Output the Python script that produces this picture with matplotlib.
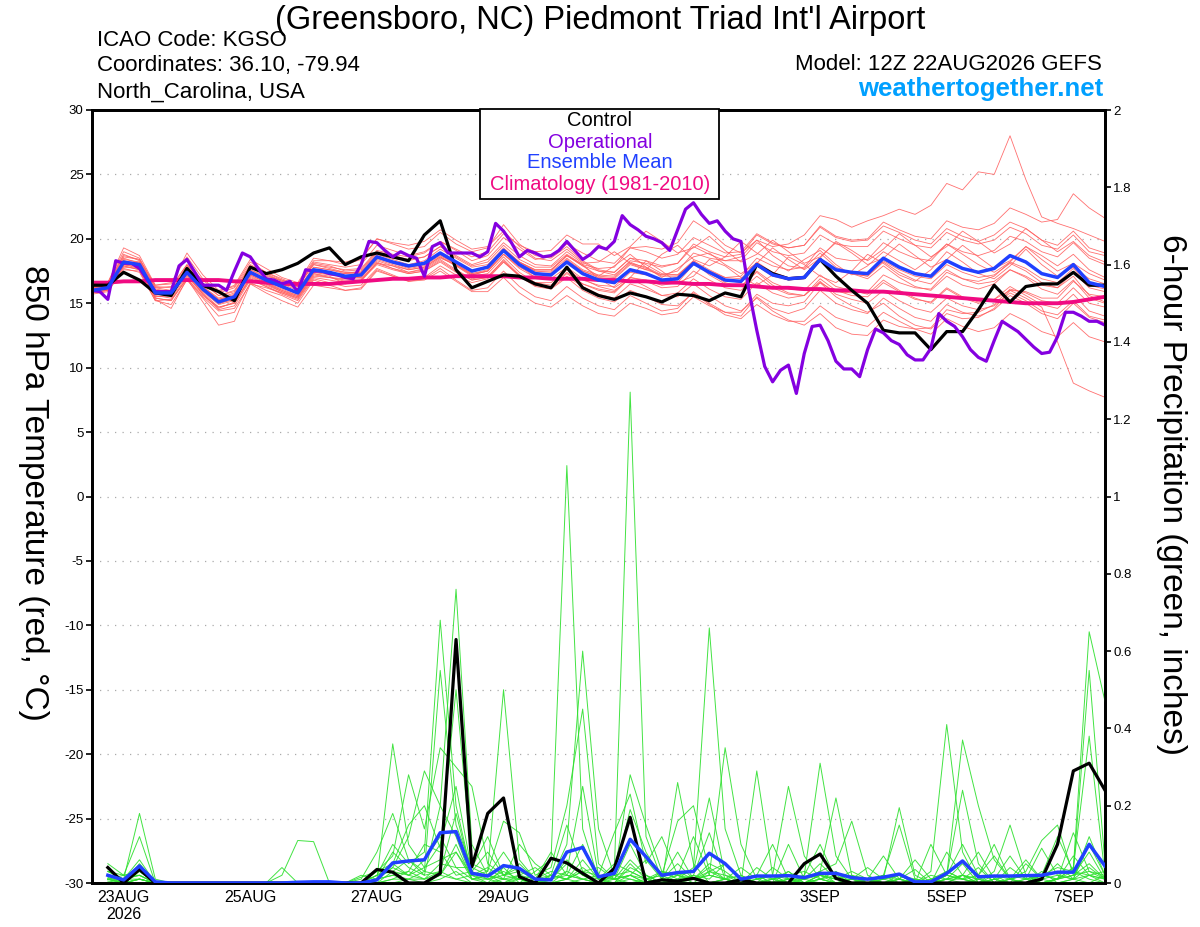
import numpy as np
import pandas as pd
import matplotlib
matplotlib.use('Agg')
import matplotlib.pyplot as plt
from matplotlib.patches import Rectangle

plt.rcParams['font.family'] = ['Liberation Sans', 'DejaVu Sans']
plt.rcParams['axes.unicode_minus'] = False

# GEFS run 12Z 22AUG2026, 6-hourly steps (operational every 3 hours)
times6 = pd.date_range('2026-08-22 12:00', periods=65, freq='6h')
times3 = pd.date_range('2026-08-22 12:00', periods=129, freq='3h')

tick_dates = pd.to_datetime(['2026-08-23', '2026-08-25', '2026-08-27', '2026-08-29',
                             '2026-09-01', '2026-09-03', '2026-09-05', '2026-09-07'])
tick_labels = ['23AUG\n2026', '25AUG', '27AUG', '29AUG', '1SEP', '3SEP', '5SEP', '7SEP']

# 850 hPa temperature (C)
ctl_t = [16.4, 16.4, 17.4, 16.8, 15.8, 15.6, 17.7, 16.4, 15.9, 15.2,
         17.8, 17.3, 17.6, 18.1, 18.9, 19.3, 18.0, 18.6, 18.9, 18.6,
         18.3, 20.3, 21.4, 17.6, 16.2, 16.7, 17.2, 17.1, 16.5, 16.2,
         17.8, 16.2, 15.6, 15.3, 15.8, 15.5, 15.1, 15.7, 15.6, 15.2,
         15.8, 15.5, 18.0, 17.3, 16.9, 17.0, 18.4, 17.1, 16.0, 15.0,
         12.9, 12.7, 12.7, 11.4, 12.8, 12.8, 14.5, 16.4, 15.1, 16.3,
         16.5, 16.5, 17.4, 16.4, 16.4]

mean_t = [16.0, 16.2, 18.2, 18.0, 15.8, 15.8, 17.4, 16.1, 15.1, 15.5,
          17.4, 16.8, 16.3, 15.8, 17.6, 17.4, 17.1, 17.2, 18.6, 18.2,
          17.9, 18.1, 18.9, 18.2, 17.5, 17.8, 19.1, 18.0, 17.3, 17.2,
          18.2, 17.3, 16.8, 16.6, 17.6, 17.3, 16.8, 16.9, 18.1, 17.4,
          16.8, 16.7, 18.0, 17.2, 16.9, 17.0, 18.4, 17.6, 17.4, 17.3,
          18.5, 17.8, 17.3, 17.1, 18.3, 17.7, 17.4, 17.7, 18.7, 18.2,
          17.3, 17.0, 18.0, 16.6, 16.3]

clim_t = [16.6, 16.6, 16.7, 16.7, 16.8, 16.8, 16.8, 16.8, 16.8,
          16.7, 16.7, 16.6, 16.5, 16.5, 16.5, 16.5, 16.6,
          16.7, 16.8, 16.9, 16.9, 17.0, 17.0, 17.1, 17.1,
          17.1, 17.1, 17.0, 17.0, 16.9, 16.9, 16.9, 16.8,
          16.8, 16.7, 16.7, 16.6, 16.6, 16.5, 16.5, 16.4,
          16.4, 16.3, 16.2, 16.2, 16.1, 16.1, 16.0, 16.0,
          15.9, 15.9, 15.8, 15.7, 15.6, 15.5, 15.4, 15.3,
          15.2, 15.1, 15.0, 15.0, 15.0, 15.1, 15.3, 15.5]

ops_t = [16.0, 15.9, 15.3, 18.3, 18.1, 18.1, 17.7, 16.8, 15.9, 15.9,
         15.9, 17.9, 18.4, 17.4, 16.4, 16.4, 16.4, 16.0, 17.5, 18.9,
         18.6, 17.7, 16.9, 16.8, 16.5, 16.7, 15.9, 17.6, 17.5, 17.5,
         17.3, 17.2, 17.0, 16.9, 18.0, 19.8, 19.7, 19.1, 18.6, 19.0,
         18.7, 18.5, 17.1, 19.4, 19.7, 18.9, 18.9, 18.9, 18.9, 18.6,
         19.0, 21.2, 20.6, 19.7, 18.6, 19.1, 18.9, 18.6, 18.7, 19.1,
         19.8, 19.1, 18.4, 18.8, 19.4, 19.2, 19.8, 21.8, 21.1, 20.7,
         20.2, 20.0, 19.7, 19.1, 20.7, 22.3, 22.8, 21.9, 21.2, 21.4,
         20.6, 20.0, 19.8, 16.0, 12.9, 10.1, 8.9, 9.8, 10.2, 8.0,
         11.1, 13.2, 13.3, 12.1, 10.5, 9.9, 9.9, 9.3, 11.4, 13.0,
         12.7, 12.1, 11.8, 11.0, 10.6, 10.6, 11.5, 14.2, 13.6, 13.2,
         12.4, 11.4, 10.8, 10.5, 12.1, 13.6, 13.2, 12.8, 12.2, 11.6,
         11.1, 11.2, 12.4, 14.3, 14.3, 14.0, 13.6, 13.6, 13.3]

member_t = [
    [16.2, 16.5, 18.8, 18.3, 16.2, 16.0, 17.9, 16.5, 15.6, 15.9, 17.9, 17.3, 16.7, 16.3, 18.2, 18.0,
     17.8, 18.0, 19.5, 19.1, 18.7, 19.0, 19.8, 19.1, 18.3, 18.7, 20.1, 19.2, 18.4, 18.6, 19.6, 18.9,
     18.3, 18.1, 19.3, 19.0, 18.5, 18.8, 20.1, 19.5, 18.9, 19.0, 20.4, 19.7, 19.3, 19.5, 20.9, 20.1,
     19.8, 19.9, 21.0, 20.5, 19.9, 19.6, 20.8, 20.2, 19.8, 20.3, 21.3, 20.8, 19.9, 19.5, 20.6, 19.3, 18.9],
    [15.8, 16.0, 17.9, 17.6, 15.4, 15.2, 17.0, 15.8, 14.7, 15.0, 17.0, 16.5, 15.9, 15.4, 17.1, 17.0,
     16.8, 16.9, 18.1, 17.9, 17.4, 17.7, 18.5, 18.0, 17.2, 17.5, 18.8, 17.9, 17.0, 17.1, 18.4, 17.5,
     17.0, 16.9, 18.0, 17.6, 17.2, 17.5, 18.9, 18.5, 18.3, 18.6, 19.9, 19.4, 19.6, 20.3, 21.8, 21.5,
     20.9, 21.4, 21.8, 22.3, 21.9, 22.6, 24.3, 23.8, 25.2, 25.0, 28.0, 24.6, 21.7, 21.2, 20.8, 20.3, 19.8],
    [16.1, 16.3, 18.0, 17.8, 15.5, 15.6, 17.2, 15.7, 14.6, 15.1, 16.9, 16.4, 15.9, 15.5, 17.3, 17.1,
     16.5, 16.8, 18.0, 17.6, 17.3, 17.5, 18.2, 17.4, 16.8, 17.0, 18.4, 17.2, 16.4, 16.2, 17.1, 16.3,
     15.7, 15.4, 16.5, 16.1, 15.6, 15.8, 16.9, 16.1, 15.5, 15.3, 16.6, 15.8, 15.4, 15.6, 16.9, 16.0,
     15.6, 15.5, 16.6, 15.9, 15.3, 15.1, 16.2, 15.5, 15.1, 15.3, 16.0, 15.4, 14.7, 12.0, 8.8, 8.2, 7.7],
    [15.7, 15.9, 17.6, 17.5, 15.2, 14.9, 16.8, 15.4, 14.0, 14.3, 16.6, 16.0, 15.6, 15.0, 16.8, 16.4,
     16.0, 16.2, 17.6, 17.1, 16.7, 16.9, 17.7, 16.8, 16.0, 16.2, 17.5, 16.3, 15.5, 15.2, 16.3, 15.4,
     14.8, 14.5, 15.6, 15.0, 14.4, 14.6, 15.9, 15.0, 14.3, 14.0, 15.5, 14.6, 14.2, 14.6, 16.0, 15.0,
     14.5, 14.2, 15.4, 14.6, 13.9, 13.6, 14.9, 14.3, 14.0, 14.5, 15.6, 15.0, 14.2, 13.8, 15.0, 13.9, 13.5],
    [16.3, 16.6, 19.3, 18.7, 16.4, 16.6, 18.6, 16.9, 15.9, 16.4, 18.4, 17.7, 17.0, 16.6, 18.5, 18.3,
     18.0, 18.4, 20.0, 19.6, 19.2, 19.4, 20.5, 19.6, 19.0, 19.3, 21.1, 19.6, 18.7, 18.5, 19.4, 18.3,
     17.6, 17.4, 18.5, 18.0, 17.3, 17.2, 18.2, 17.2, 16.5, 16.3, 17.5, 16.6, 16.1, 16.0, 17.2, 16.3,
     16.0, 15.7, 16.8, 16.0, 15.4, 15.0, 16.1, 15.4, 15.0, 15.3, 16.3, 15.6, 14.9, 14.6, 15.7, 14.4, 14.0],
    [16.0, 16.1, 18.4, 18.2, 16.0, 15.7, 17.5, 16.2, 15.2, 15.4, 17.2, 16.6, 16.0, 15.6, 17.4, 17.3,
     17.3, 17.5, 18.9, 18.5, 18.3, 18.6, 19.4, 18.7, 18.0, 18.4, 19.7, 18.7, 18.0, 17.9, 19.0, 18.1,
     18.2, 19.0, 18.1, 17.6, 18.8, 19.5, 18.4, 17.9, 18.6, 19.8, 18.9, 18.2, 17.5, 18.4, 19.1, 18.0,
     17.2, 17.9, 19.0, 18.3, 17.6, 18.5, 19.6, 18.8, 18.0, 17.4, 18.2, 19.4, 18.7, 17.9, 18.8, 17.6, 17.0],
    [15.9, 16.0, 18.1, 17.9, 15.3, 14.6, 16.9, 15.1, 13.3, 13.6, 16.5, 16.2, 15.8, 15.4, 17.2, 17.0,
     16.9, 17.0, 18.4, 18.0, 17.6, 17.8, 18.6, 17.9, 17.1, 17.3, 18.6, 17.4, 16.6, 16.4, 17.4, 16.5,
     16.0, 15.8, 17.0, 16.8, 16.4, 16.6, 18.0, 17.5, 17.0, 17.1, 18.5, 17.9, 17.6, 17.8, 19.3, 18.5,
     18.3, 18.4, 19.7, 19.0, 18.5, 18.3, 19.6, 19.0, 18.7, 19.1, 20.2, 19.8, 19.0, 18.6, 19.7, 18.5, 18.0],
    [16.2, 16.4, 18.5, 18.1, 15.9, 16.0, 17.6, 16.3, 15.4, 15.8, 17.6, 17.0, 16.6, 16.1, 17.8, 17.6,
     17.4, 17.4, 18.8, 18.4, 18.0, 18.3, 19.2, 18.5, 17.8, 18.0, 19.3, 18.2, 17.5, 17.4, 18.5, 17.6,
     17.2, 17.1, 18.3, 18.1, 17.8, 18.1, 19.6, 19.0, 18.6, 18.8, 20.3, 19.6, 19.3, 19.5, 21.0, 20.2,
     19.9, 20.0, 21.3, 20.7, 20.2, 20.0, 21.4, 20.9, 20.7, 21.2, 22.4, 21.9, 21.3, 21.5, 23.5, 22.4, 21.6],
    [16.0, 16.2, 18.0, 17.7, 15.6, 15.4, 17.1, 15.9, 14.9, 15.2, 17.1, 16.5, 16.0, 15.5, 17.3, 17.0,
     16.7, 16.8, 18.2, 17.7, 17.4, 17.6, 18.4, 17.6, 16.9, 17.1, 18.3, 17.1, 16.3, 16.1, 17.0, 16.0,
     15.4, 15.1, 16.0, 15.5, 14.9, 14.8, 15.8, 14.9, 14.1, 13.8, 14.9, 14.1, 13.6, 13.6, 14.8, 13.9,
     13.5, 13.2, 14.3, 13.6, 13.0, 12.6, 13.8, 13.2, 12.8, 13.1, 14.2, 13.6, 12.8, 12.4, 13.5, 12.4, 12.0],
    [16.4, 16.6, 19.0, 18.5, 16.3, 16.2, 18.0, 16.8, 15.8, 16.2, 18.0, 17.4, 16.9, 16.4, 18.1, 17.9,
     17.5, 17.6, 19.0, 18.7, 18.4, 18.6, 19.4, 18.6, 17.9, 18.2, 19.5, 18.4, 17.8, 17.8, 18.8, 18.0,
     16.9, 16.2, 17.0, 18.3, 17.5, 16.6, 17.1, 18.4, 17.9, 17.0, 16.4, 17.2, 18.6, 18.0, 17.1, 16.6,
     17.5, 18.8, 18.1, 17.2, 16.7, 17.6, 19.0, 18.2, 17.3, 16.9, 17.9, 19.2, 18.0, 17.1, 17.8, 16.9, 16.5],
    [15.9, 16.1, 17.8, 17.7, 15.5, 15.6, 17.3, 15.7, 14.5, 14.8, 16.8, 16.3, 15.7, 15.2, 16.9, 16.6,
     16.3, 16.4, 17.7, 17.2, 16.7, 16.8, 17.5, 16.7, 15.9, 15.9, 17.0, 15.8, 15.0, 14.7, 15.6, 14.8,
     14.2, 14.0, 15.0, 14.6, 14.1, 14.3, 15.5, 14.8, 14.3, 14.3, 15.7, 15.0, 14.8, 15.1, 16.6, 15.9,
     15.8, 15.9, 17.2, 16.6, 16.2, 16.1, 17.4, 16.9, 16.7, 17.1, 18.2, 17.7, 16.9, 16.6, 17.7, 16.4, 16.1],
    [16.2, 16.3, 18.3, 18.0, 15.8, 15.9, 17.5, 16.2, 15.3, 15.7, 17.6, 17.1, 16.8, 16.5, 18.3, 18.3,
     18.2, 18.5, 20.0, 19.7, 19.5, 19.8, 20.7, 19.9, 19.2, 19.4, 20.6, 19.4, 18.5, 18.3, 19.2, 18.2,
     17.5, 17.2, 18.2, 17.7, 17.1, 17.1, 18.2, 17.4, 16.8, 16.6, 17.9, 17.1, 16.8, 16.9, 18.3, 17.5,
     17.3, 17.1, 18.3, 17.6, 17.1, 16.9, 18.0, 17.4, 17.0, 17.2, 18.1, 17.5, 16.6, 16.2, 17.1, 15.6, 15.1],
    [16.1, 16.3, 18.2, 17.9, 15.7, 15.7, 17.4, 16.0, 15.0, 15.3, 17.3, 16.7, 16.2, 15.7, 17.5, 17.3,
     17.0, 17.1, 18.5, 18.1, 17.7, 17.9, 18.7, 18.0, 17.3, 17.5, 18.8, 17.7, 17.0, 16.9, 17.8, 16.9,
     16.3, 16.0, 16.9, 16.3, 15.6, 15.5, 16.5, 15.6, 14.8, 14.4, 15.4, 14.4, 13.7, 13.3, 14.2, 13.1,
     12.6, 12.5, 13.7, 13.2, 13.0, 13.1, 14.5, 14.2, 14.3, 14.9, 16.1, 15.8, 15.2, 15.0, 16.2, 15.0, 14.7],
    [15.8, 16.0, 18.0, 17.9, 15.7, 15.7, 17.3, 16.0, 15.0, 15.3, 17.2, 16.6, 16.1, 15.6, 17.4, 17.2,
     17.0, 17.2, 18.6, 18.2, 17.9, 18.1, 18.9, 18.2, 17.5, 17.9, 19.2, 18.2, 17.6, 17.6, 18.7, 17.9,
     17.5, 17.4, 18.5, 18.3, 17.9, 18.1, 19.4, 18.8, 18.3, 18.3, 19.7, 19.0, 18.7, 18.9, 20.3, 19.6,
     19.4, 19.4, 20.6, 20.0, 19.5, 19.3, 20.5, 19.9, 19.6, 19.9, 20.9, 20.4, 19.5, 19.2, 20.3, 19.0, 18.7],
    [16.0, 16.2, 18.1, 18.2, 16.1, 15.9, 17.6, 16.0, 15.2, 15.6, 17.5, 16.9, 16.5, 16.0, 17.8, 17.6,
     17.3, 17.3, 18.7, 18.2, 17.8, 18.0, 18.8, 18.0, 17.3, 17.6, 19.0, 18.1, 17.5, 17.5, 18.7, 18.0,
     17.7, 17.8, 19.3, 19.4, 19.2, 19.7, 21.4, 20.6, 19.5, 18.9, 19.9, 18.7, 17.9, 17.7, 18.9, 17.8,
     17.3, 16.9, 17.9, 17.0, 16.3, 16.0, 17.1, 16.4, 16.1, 16.5, 17.6, 17.1, 16.4, 16.2, 17.4, 16.2, 15.9],
    [16.1, 16.2, 18.3, 18.0, 15.9, 15.9, 17.6, 16.3, 15.3, 15.6, 17.4, 16.8, 16.2, 15.8, 17.5, 17.3,
     17.0, 17.0, 18.3, 17.9, 17.6, 17.8, 18.6, 17.9, 17.2, 17.5, 18.8, 17.8, 17.2, 17.2, 18.3, 17.5,
     17.1, 17.0, 18.1, 17.8, 17.2, 17.2, 18.3, 17.4, 16.6, 16.3, 17.4, 16.4, 15.8, 15.6, 16.6, 15.5,
     14.8, 14.3, 15.0, 14.0, 13.3, 13.0, 14.2, 13.8, 13.9, 14.6, 16.0, 15.9, 15.4, 15.4, 16.7, 15.7, 15.5],
    [16.2, 16.4, 18.6, 18.4, 16.2, 16.3, 18.0, 16.6, 15.6, 16.0, 17.9, 17.2, 16.7, 16.3, 18.0, 17.8,
     17.6, 17.7, 19.1, 18.8, 18.6, 18.9, 19.8, 19.2, 18.6, 19.0, 20.4, 19.5, 19.0, 19.1, 20.3, 19.6,
     19.6, 18.7, 19.4, 20.6, 19.8, 18.9, 19.3, 20.2, 19.1, 18.2, 18.8, 19.9, 19.0, 18.1, 18.6, 19.7,
     18.9, 18.0, 18.5, 19.6, 18.7, 17.8, 18.4, 19.5, 18.6, 17.7, 18.3, 19.4, 18.4, 17.5, 18.1, 17.3, 16.8],
    [15.9, 16.0, 17.7, 17.4, 15.2, 15.3, 16.9, 15.5, 14.4, 14.6, 16.5, 15.8, 15.2, 14.7, 16.4, 16.2,
     16.0, 16.1, 17.5, 17.1, 16.8, 17.0, 17.9, 17.2, 16.6, 16.9, 18.2, 17.2, 16.6, 16.6, 17.6, 16.8,
     16.4, 16.3, 17.4, 17.2, 16.8, 17.0, 18.3, 17.6, 17.0, 16.9, 18.2, 17.4, 17.0, 17.1, 18.4, 17.6,
     17.3, 17.1, 18.2, 17.4, 16.8, 16.5, 17.6, 16.9, 16.5, 16.7, 17.6, 17.0, 16.1, 15.7, 16.8, 15.4, 15.0],
    [16.3, 16.5, 18.7, 18.4, 16.4, 16.5, 18.9, 17.2, 16.0, 16.3, 18.2, 17.4, 16.8, 16.3, 18.0, 17.7,
     17.4, 17.4, 18.7, 18.2, 17.8, 18.0, 18.8, 18.1, 17.4, 17.8, 19.2, 18.2, 17.6, 17.6, 18.7, 17.9,
     17.1, 17.9, 18.8, 17.8, 17.0, 17.7, 18.6, 18.9, 18.0, 17.3, 18.1, 19.3, 18.4, 17.6, 18.5, 19.8,
     19.1, 18.3, 19.2, 20.4, 19.5, 18.6, 19.4, 20.6, 19.8, 18.9, 19.6, 20.8, 19.9, 19.0, 19.8, 18.7, 18.2],
    [16.0, 16.1, 17.9, 17.6, 15.4, 15.2, 16.9, 15.6, 14.7, 15.0, 16.9, 16.3, 15.8, 15.3, 17.0, 16.8,
     16.6, 16.7, 18.1, 17.7, 17.3, 17.5, 18.3, 17.5, 16.8, 17.0, 18.2, 17.1, 16.4, 16.3, 17.3, 16.5,
     16.1, 15.9, 17.0, 16.7, 16.2, 16.3, 17.5, 16.8, 16.2, 16.0, 17.1, 16.2, 15.7, 15.6, 16.7, 15.7,
     15.3, 15.0, 16.0, 15.2, 14.6, 14.3, 15.4, 14.8, 14.5, 14.8, 15.8, 15.2, 14.4, 14.1, 15.2, 14.0, 13.7],
]

# 6-hour precipitation (inches), valid at steps 1..64
ctl_p = [0.04, 0.0, 0.035, 0.0, 0, 0, 0, 0, 0, 0, 0, 0, 0, 0, 0, 0,
         0, 0.035, 0.028, 0, 0, 0.025, 0.63, 0.042, 0.18, 0.22, 0.016, 0, 0.064, 0.052, 0.025, 0,
         0.038, 0.17, 0, 0.008, 0.005, 0.012, 0, 0, 0.008, 0, 0, 0, 0.05, 0.075, 0.012, 0,
         0, 0, 0, 0, 0, 0, 0, 0, 0, 0, 0, 0.01, 0.10, 0.29, 0.31, 0.24]

mean_p = [0.02, 0.008, 0.044, 0.003, 0, 0, 0, 0, 0, 0, 0, 0, 0.002, 0.003, 0.003, 0,
          0, 0.008, 0.052, 0.057, 0.06, 0.13, 0.133, 0.025, 0.018, 0.045, 0.038, 0.01, 0.008, 0.08, 0.092, 0.016,
          0.025, 0.113, 0.068, 0.02, 0.027, 0.03, 0.077, 0.05, 0.01, 0.018, 0.018, 0.019, 0.014, 0.025, 0.025, 0.014,
          0.01, 0.015, 0.023, 0.003, 0.003, 0.025, 0.057, 0.016, 0.018, 0.018, 0.019, 0.02, 0.028, 0.028, 0.1, 0.044]

member_p = [
    [0.03, 0.01, 0.18, 0.01, 0, 0, 0, 0, 0, 0, 0, 0, 0, 0, 0, 0,
     0, 0.02, 0.1, 0.05, 0.08, 0.68, 0.2, 0.02, 0.01, 0, 0.02, 0, 0.01, 0.06, 0.02, 0,
     0.03, 1.27, 0.12, 0.01, 0, 0.02, 0.13, 0.01, 0, 0, 0.01, 0, 0.02, 0.1, 0.01, 0,
     0, 0, 0.01, 0, 0, 0.01, 0.05, 0, 0, 0, 0.01, 0.02, 0.01, 0.04, 0.65, 0.47],
    [0.05, 0.02, 0.12, 0, 0, 0, 0, 0, 0, 0, 0, 0, 0, 0, 0, 0,
     0, 0.01, 0.04, 0.12, 0.29, 0.2, 0.76, 0.1, 0.02, 0.01, 0, 0.03, 0.06, 1.08, 0.14, 0.01,
     0, 0.04, 0.02, 0, 0.26, 0.05, 0, 0.01, 0, 0.02, 0, 0.1, 0.01, 0, 0, 0.01,
     0, 0, 0, 0, 0.03, 0.41, 0.08, 0, 0, 0, 0, 0, 0.01, 0.02, 0.08, 0.01],
    [0.03, 0.01, 0.06, 0, 0, 0, 0, 0, 0, 0, 0, 0.02, 0.11, 0.107, 0, 0,
     0, 0.01, 0.36, 0.1, 0.04, 0.06, 0.08, 0.02, 0.03, 0.5, 0.06, 0.01, 0, 0.03, 0.25, 0.02,
     0.01, 0.02, 0, 0.03, 0.01, 0.04, 0.66, 0.14, 0.02, 0, 0, 0.03, 0, 0.02, 0, 0.01,
     0, 0.01, 0.195, 0.02, 0, 0.02, 0.24, 0.05, 0, 0.01, 0, 0.02, 0.04, 0.03, 0.55, 0.05],
    [0.02, 0, 0.05, 0, 0, 0, 0, 0, 0, 0, 0, 0.04, 0, 0, 0, 0,
     0, 0.03, 0.07, 0.28, 0.14, 0.35, 0.3, 0.25, 0.05, 0.02, 0.04, 0, 0.01, 0.1, 0.6, 0.14,
     0.02, 0.03, 0.01, 0, 0.02, 0.01, 0.05, 0.03, 0, 0.29, 0.02, 0, 0.01, 0.03, 0.05, 0.16,
     0.02, 0, 0.01, 0, 0, 0.02, 0.01, 0, 0.03, 0.15, 0.02, 0, 0.01, 0.04, 0.38, 0.02],
    [0.02, 0.01, 0.04, 0, 0, 0, 0, 0, 0, 0, 0, 0, 0, 0, 0, 0,
     0.01, 0.08, 0.18, 0.06, 0.03, 0.55, 0.15, 0.04, 0.12, 0.02, 0.03, 0.01, 0.08, 0.02, 0.01, 0,
     0.02, 0.28, 0.15, 0.03, 0.02, 0, 0.03, 0.05, 0.01, 0.02, 0, 0.01, 0.02, 0.31, 0.07, 0.01,
     0, 0.01, 0, 0.01, 0, 0.02, 0.37, 0.2, 0.06, 0.01, 0, 0.02, 0.12, 0.03, 0.02, 0.01],
    [0.01, 0, 0.03, 0, 0, 0, 0, 0, 0, 0, 0, 0, 0, 0, 0, 0,
     0, 0.02, 0.05, 0.15, 0.2, 0.09, 0.5, 0.05, 0.03, 0.16, 0.13, 0.02, 0.04, 0.2, 0.45, 0.05,
     0.01, 0.06, 0.02, 0, 0.03, 0.01, 0.02, 0.35, 0.1, 0.01, 0.02, 0.01, 0, 0.02, 0.01, 0,
     0.01, 0.02, 0.01, 0, 0.1, 0.02, 0.01, 0, 0.02, 0.01, 0.03, 0.11, 0.15, 0.02, 0.03, 0.01],
    [0.03, 0.02, 0.02, 0, 0, 0, 0, 0, 0, 0, 0, 0, 0, 0, 0, 0,
     0.015, 0.03, 0.05, 0.02, 0.04, 0.1, 0.25, 0.03, 0.08, 0.02, 0.01, 0, 0.02, 0.01, 0.03, 0.02,
     0.13, 0.23, 0.05, 0.12, 0.02, 0.01, 0.03, 0.02, 0, 0.01, 0.02, 0.25, 0.07, 0.01, 0.02, 0,
     0.01, 0, 0.02, 0, 0.01, 0.03, 0.01, 0.02, 0.1, 0.01, 0.02, 0, 0.01, 0.13, 0.03, 0.02],
    [0.02, 0.01, 0.02, 0, 0, 0, 0, 0, 0, 0, 0, 0, 0, 0, 0, 0,
     0, 0.02, 0.03, 0.06, 0.02, 0.2, 0.12, 0.01, 0.02, 0.01, 0.1, 0.05, 0.02, 0.15, 0.03, 0.04,
     0.01, 0.02, 0.01, 0.02, 0.16, 0.2, 0.03, 0.01, 0, 0.02, 0.01, 0.02, 0.01, 0.03, 0.22, 0.02,
     0, 0.01, 0.02, 0.01, 0, 0.08, 0.02, 0.01, 0, 0.01, 0.06, 0.01, 0.02, 0.01, 0.1, 0.02],
    [0.01, 0.01, 0.02, 0, 0, 0, 0, 0, 0, 0, 0, 0, 0, 0, 0, 0,
     0, 0.01, 0.04, 0.02, 0.06, 0.12, 0.04, 0.04, 0.02, 0.08, 0.02, 0.01, 0.03, 0.02, 0.1, 0.01,
     0.02, 0.19, 0.08, 0.01, 0.02, 0.03, 0.22, 0.02, 0.01, 0.02, 0.1, 0.01, 0, 0.02, 0.01, 0.02,
     0.01, 0.07, 0.01, 0, 0.02, 0.01, 0.02, 0.08, 0.01, 0.02, 0.01, 0.09, 0.02, 0.01, 0.12, 0.02],
    [0.015, 0, 0.01, 0, 0, 0, 0, 0, 0, 0, 0, 0, 0, 0, 0, 0,
     0.02, 0.01, 0.08, 0.04, 0.02, 0.03, 0.18, 0.02, 0.04, 0.01, 0.02, 0.04, 0.01, 0.05, 0.02, 0.01,
     0.05, 0.03, 0.01, 0.03, 0.02, 0.12, 0.02, 0.01, 0.04, 0.01, 0.02, 0, 0.01, 0.05, 0.01, 0.01,
     0, 0.02, 0.15, 0.01, 0, 0.01, 0.02, 0, 0.01, 0.07, 0.01, 0.02, 0.01, 0.07, 0.02, 0.01],
    [0.01, 0, 0.01, 0, 0, 0, 0, 0, 0, 0, 0, 0, 0, 0, 0, 0,
     0, 0.01, 0.02, 0.03, 0.1, 0.08, 0.02, 0.03, 0.01, 0.02, 0.05, 0.01, 0.02, 0.01, 0.06, 0.01,
     0.01, 0.02, 0.06, 0.01, 0.05, 0.01, 0.02, 0.01, 0, 0.04, 0.01, 0.02, 0.03, 0.01, 0, 0.01,
     0.04, 0.01, 0.02, 0, 0.01, 0.02, 0.1, 0.02, 0.07, 0.01, 0.02, 0.01, 0.05, 0.01, 0.02, 0.03],
    [0.02, 0.01, 0.01, 0, 0, 0, 0, 0, 0, 0, 0, 0, 0, 0, 0, 0,
     0, 0, 0.03, 0.02, 0.01, 0.02, 0.08, 0.01, 0.01, 0.03, 0.01, 0, 0.01, 0.03, 0.01, 0.02,
     0.01, 0.1, 0.02, 0, 0.01, 0.02, 0.01, 0.05, 0.01, 0, 0.04, 0.01, 0.01, 0.02, 0.01, 0.03,
     0.01, 0, 0.01, 0.06, 0.01, 0, 0.02, 0.01, 0, 0.04, 0.01, 0, 0.01, 0.02, 0.05, 0.01],
    [0.01, 0, 0, 0, 0, 0, 0, 0, 0, 0, 0, 0, 0, 0, 0, 0,
     0, 0.01, 0.02, 0.01, 0.01, 0.05, 0.04, 0.01, 0, 0.01, 0.01, 0, 0.02, 0.01, 0.04, 0.01,
     0, 0.05, 0.01, 0, 0.01, 0.01, 0.04, 0.01, 0, 0.01, 0, 0.01, 0.01, 0.03, 0, 0.01,
     0, 0.02, 0, 0.01, 0, 0.03, 0.01, 0, 0.01, 0, 0.05, 0.01, 0, 0.01, 0.04, 0.01],
    [0.01, 0.02, 0.03, 0, 0, 0, 0, 0, 0, 0, 0, 0, 0, 0, 0, 0,
     0, 0, 0.01, 0.01, 0.03, 0.02, 0.1, 0.01, 0.02, 0, 0.01, 0, 0.01, 0.02, 0.01, 0,
     0.02, 0.01, 0, 0.01, 0.08, 0.01, 0, 0.01, 0, 0, 0.01, 0.03, 0, 0.01, 0, 0,
     0.01, 0, 0.01, 0.035, 0, 0.01, 0, 0.01, 0.02, 0, 0.01, 0, 0.01, 0.03, 0.01, 0],
    [0.005, 0, 0.01, 0, 0, 0, 0, 0, 0, 0, 0, 0, 0, 0, 0, 0,
     0, 0, 0.01, 0.03, 0.01, 0.03, 0.01, 0.02, 0, 0.04, 0, 0.01, 0, 0.01, 0.03, 0,
     0.01, 0, 0.01, 0.02, 0, 0.01, 0, 0.01, 0.02, 0, 0.01, 0, 0, 0.01, 0.03, 0,
     0.01, 0, 0, 0.01, 0, 0.01, 0.01, 0.04, 0, 0.01, 0, 0.03, 0, 0.01, 0, 0.02],
    [0.01, 0, 0, 0, 0, 0, 0, 0, 0, 0, 0, 0, 0, 0, 0, 0,
     0, 0, 0, 0.01, 0, 0.02, 0.01, 0, 0, 0, 0, 0, 0, 0.01, 0, 0,
     0, 0.01, 0, 0, 0, 0.02, 0, 0, 0, 0, 0, 0.01, 0, 0, 0, 0,
     0, 0, 0, 0, 0, 0, 0.02, 0, 0, 0, 0, 0, 0, 0, 0.02, 0],
    [0, 0, 0.01, 0, 0, 0, 0, 0, 0, 0, 0, 0, 0, 0, 0, 0,
     0, 0, 0, 0, 0, 0.01, 0.03, 0, 0, 0, 0, 0, 0, 0, 0.01, 0,
     0, 0.02, 0, 0, 0, 0, 0, 0, 0, 0, 0, 0, 0, 0.01, 0, 0,
     0, 0, 0, 0, 0, 0, 0, 0, 0.01, 0, 0, 0, 0, 0, 0, 0],
]

red = '#ff6060'
green = '#2ee02e'
purple = '#8400e0'
blue = '#2040ff'
pink = '#f00a82'

fig = plt.figure(figsize=(12, 9.27), dpi=100)
ax = fig.add_axes([92 / 1200, 1 - 883 / 927, 1013 / 1200, 773 / 927])
ax2 = ax.twinx()

# temperature ensemble
for m in member_t:
    ax.plot(times6, m, color=red, lw=0.6, alpha=0.9, zorder=2)
ax.plot(times6, clim_t, color=pink, lw=2.8, zorder=4)
ax.plot(times6, ctl_t, color='black', lw=2.3, zorder=5)
ax.plot(times3, ops_t, color=purple, lw=2.3, zorder=6)
ax.plot(times6, mean_t, color=blue, lw=2.5, zorder=7)

# precipitation ensemble
for m in member_p:
    ax2.plot(times6[1:], m, color=green, lw=0.7, alpha=0.9, zorder=2)
ax2.plot(times6[1:], ctl_p, color='black', lw=2.3, zorder=5)
ax2.plot(times6[1:], mean_p, color=blue, lw=2.5, zorder=7)

ax.set_xlim(times6[0], times6[-1])
ax.set_ylim(-30, 30)
ax2.set_ylim(0, 2)
ax.set_yticks(np.arange(-30, 31, 5))
ax2.set_yticks(np.arange(0, 2.01, 0.2))
ax2.set_yticklabels(['%g' % round(v, 1) for v in np.arange(0, 2.01, 0.2)])
for g in np.arange(-25, 26, 5):
    ax.axhline(g, color='#aaaaaa', lw=0.9, ls=(0, (1, 5)), zorder=1)

ax.set_xticks(tick_dates)
ax.set_xticklabels(tick_labels)
ax.tick_params(axis='x', length=0, labelsize=11.5, pad=5)
ax.tick_params(axis='y', length=4, width=1.2, labelsize=9.5, pad=2)
ax2.tick_params(axis='y', length=4, width=1.2, labelsize=9.5, pad=2)
for a in (ax, ax2):
    for s in a.spines.values():
        s.set_linewidth(2.0)

fig.text(33 / 1200, 1 - 493 / 927, '850 hPa Temperature (red, °C)', rotation=270,
         ha='center', va='center', fontsize=24)
fig.text(1172 / 1200, 1 - 495 / 927, '6-hour Precipitation (green, inches)', rotation=270,
         ha='center', va='center', fontsize=24)

fig.text(0.5, 1 - 20 / 927, "(Greensboro, NC) Piedmont Triad Int'l Airport",
         ha='center', va='center', fontsize=23.5)
fig.text(97 / 1200, 1 - 40 / 927, 'ICAO Code: KGSO', ha='left', va='center', fontsize=16)
fig.text(97 / 1200, 1 - 66 / 927, 'Coordinates: 36.10, -79.94', ha='left', va='center', fontsize=16)
fig.text(97 / 1200, 1 - 92 / 927, 'North_Carolina, USA', ha='left', va='center', fontsize=16)
fig.text(1102 / 1200, 1 - 64 / 927, 'Model: 12Z 22AUG2026 GEFS', ha='right', va='center', fontsize=16)
fig.text(1103 / 1200, 1 - 89 / 927, 'weathertogether.net', ha='right', va='center',
         fontsize=18.5, fontweight='bold', color='#00a0ff')

# legend box
fig.patches.append(Rectangle((480 / 1200, 1 - 199 / 927), 239 / 1200, 90 / 927,
                             transform=fig.transFigure, facecolor='white',
                             edgecolor='black', lw=1.3, zorder=10))
leg = [('Control', 'black', 121), ('Operational', purple, 142),
       ('Ensemble Mean', blue, 163), ('Climatology (1981-2010)', pink, 185)]
for txt, col, yy in leg:
    fig.text(0.5, 1 - yy / 927, txt, ha='center', va='center', fontsize=14.5,
             color=col, zorder=11)

fig.savefig('out.png', dpi=100)
